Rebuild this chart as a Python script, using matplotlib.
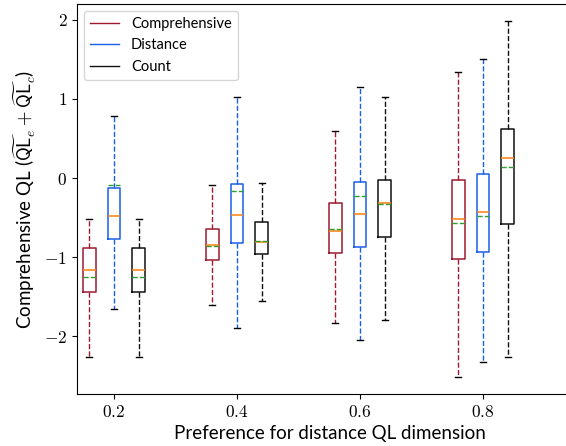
import matplotlib
matplotlib.use("Agg")
import matplotlib.pyplot as plt
from matplotlib.lines import Line2D

plt.rcParams['mathtext.fontset'] = 'cm'
plt.rcParams['font.family'] = ['Lato', 'DejaVu Sans']

positions = [0.2, 0.4, 0.6, 0.8]
series = ['Comprehensive', 'Distance', 'Count']
colors = ['#9e1a30', '#1a5fe8', '#111111']
offsets = [-0.04, 0.0, 0.04]

# per series, per position
whislo = {
    'Comprehensive': [-2.26, -1.61, -1.83, -2.51],
    'Distance':      [-1.66, -1.89, -2.05, -2.33],
    'Count':         [-2.26, -1.55, -1.80, -2.26],
}
q1 = {
    'Comprehensive': [-1.44, -1.03, -0.95, -1.02],
    'Distance':      [-0.77, -0.82, -0.87, -0.93],
    'Count':         [-1.44, -0.96, -0.74, -0.575],
}
med = {
    'Comprehensive': [-1.16, -0.85, -0.667, -0.52],
    'Distance':      [-0.485, -0.47, -0.46, -0.43],
    'Count':         [-1.16, -0.81, -0.31, 0.257],
}
mean = {
    'Comprehensive': [-1.25, -0.865, -0.645, -0.565],
    'Distance':      [-0.085, -0.17, -0.23, -0.48],
    'Count':         [-1.25, -0.79, -0.325, 0.135],
}
q3 = {
    'Comprehensive': [-0.88, -0.64, -0.32, -0.02],
    'Distance':      [-0.13, -0.07, -0.05, 0.05],
    'Count':         [-0.88, -0.56, -0.03, 0.615],
}
whishi = {
    'Comprehensive': [-0.52, -0.09, 0.60, 1.345],
    'Distance':      [0.79, 1.025, 1.15, 1.51],
    'Count':         [-0.52, -0.06, 1.025, 1.98],
}

yticks = [-2, -1, 0, 1, 2]
ytick_labels = ['$-2$', '$-1$', '$0$', '$1$', '$2$']
xtick_labels = ['0.2', '0.4', '0.6', '0.8']

fig = plt.figure(figsize=(5.66, 4.46), dpi=100)
ax = fig.add_axes([0.136, 0.1166, 0.894, 0.8745])

for s, c, off in zip(series, colors, offsets):
    stats = []
    for i in range(len(positions)):
        stats.append(dict(whislo=whislo[s][i], q1=q1[s][i], med=med[s][i],
                          mean=mean[s][i], q3=q3[s][i], whishi=whishi[s][i],
                          fliers=[]))
    ax.bxp(stats, positions=[p + off for p in positions], widths=0.02,
           showmeans=True, meanline=True, showfliers=False,
           boxprops=dict(color=c, linewidth=1.1),
           whiskerprops=dict(color=c, linestyle='--', linewidth=1.0),
           capprops=dict(color='black', linewidth=1.0),
           medianprops=dict(color='#ff7f0e', linewidth=1.1),
           meanprops=dict(color='#2ca02c', linestyle='--', linewidth=1.0),
           manage_ticks=False)

ax.set_xlim(0.1398, 0.9626)
ax.set_ylim(-2.73, 2.2)
ax.set_xticks(positions)
ax.set_xticklabels(['$' + t + '$' for t in xtick_labels], fontsize=12.5)
ax.set_yticks(yticks)
ax.set_yticklabels(ytick_labels, fontsize=12.5)

ax.set_xlabel('Preference for distance QL dimension', fontsize=13.5)
ax.set_ylabel(r'Comprehensive QL ($\widetilde{\mathsf{QL}}_e + \widetilde{\mathsf{QL}}_c$)', fontsize=13.5)

handles = [Line2D([], [], color=c, linewidth=1.0) for c in colors]
ax.legend(handles, series, loc='upper left', fontsize=10.5)

fig.savefig('out.png', dpi=100)
